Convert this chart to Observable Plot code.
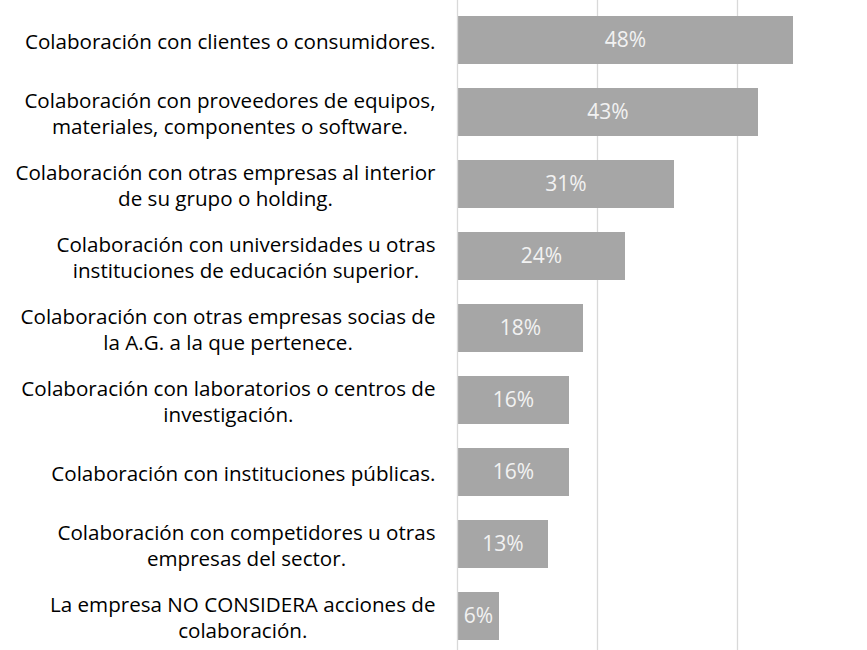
<!DOCTYPE html>
<html>
<head>
<meta charset="utf-8">
<script src="https://cdn.jsdelivr.net/npm/d3@7"></script>
<script src="https://cdn.jsdelivr.net/npm/@observablehq/plot@0.6"></script>
<style>
  html, body { margin: 0; padding: 0; background: #fff; }
  #chart svg { display: block; }
</style>
</head>
<body>
<div id="chart"></div>
<script>
const categories = [
  "Colaboración con clientes o consumidores.",
  "Colaboración con proveedores de equipos,\nmateriales, componentes o software.",
  "Colaboración con otras empresas al interior\nde su grupo o holding.",
  "Colaboración con universidades u otras\ninstituciones de educación superior.",
  "Colaboración con otras empresas socias de\nla A.G. a la que pertenece.",
  "Colaboración con laboratorios o centros de\ninvestigación.",
  "Colaboración con instituciones públicas.",
  "Colaboración con competidores u otras\nempresas del sector.",
  "La empresa NO CONSIDERA acciones de\ncolaboración."
];
const values = [48, 43, 31, 24, 18, 16, 16, 13, 6];
const valueLabels = ["48%", "43%", "31%", "24%", "18%", "16%", "16%", "13%", "6%"];
const gridTicks = [20, 40];

const data = categories.map((c, i) => ({cat: c, v: values[i], lab: valueLabels[i]}));

const W = 867, H = 650, ML = 457, MT = 15, MB = 10;
const FONT = "'Open Sans', sans-serif";
const LABEL_SIZE = 20.6;
const plot = Plot.plot({
  width: W,
  height: H,
  marginLeft: ML,
  marginRight: 0,
  marginTop: MT,
  marginBottom: MB,
  style: {fontFamily: FONT, background: "#fff", overflow: "visible"},
  x: {domain: [0, (W - ML) / 7], axis: null},
  y: {domain: categories, paddingInner: 0.34, paddingOuter: 0, axis: null},
  marks: [
    Plot.ruleX(gridTicks, {stroke: "#d9d9d9", strokeWidth: 1.3, insetTop: -MT, insetBottom: -MB}),
    Plot.barX(data, {x: "v", y: "cat", fill: "#a6a6a6"}),
    Plot.ruleX([0], {stroke: "#d9d9d9", strokeWidth: 1.3, insetTop: -MT, insetBottom: -MB}),
    Plot.text(data, {x: d => d.v / 2, y: "cat", text: "lab", fill: "#f2f2f2", fontSize: 21}),
    Plot.text(data, {x: 0, y: "cat", text: "cat", textAnchor: "middle", lineAnchor: "middle",
      lineHeight: 1.25, fontSize: LABEL_SIZE, fill: "#000"})
  ]
});
document.getElementById("chart").appendChild(plot);

// Right-align each wrapped label block at x=435, keeping its lines centered on each other
const ctx = document.createElement("canvas").getContext("2d");
ctx.font = `${LABEL_SIZE}px ${FONT}`;
const rightEdge = 435;
const catSet = new Set(categories);
plot.querySelectorAll("text").forEach(t => {
  const lines = Array.from(t.querySelectorAll("tspan")).map(s => s.textContent);
  const full = lines.length ? lines.join("\n") : t.textContent;
  if (!catSet.has(full)) return;
  const ls = full.split("\n");
  const maxW = Math.max(...ls.map(l => ctx.measureText(l).width));
  const shift = rightEdge - (ML + maxW / 2);
  const tr = t.getAttribute("transform") || "";
  t.setAttribute("transform", `translate(${shift},0) ` + tr);
});
</script>
</body>
</html>
